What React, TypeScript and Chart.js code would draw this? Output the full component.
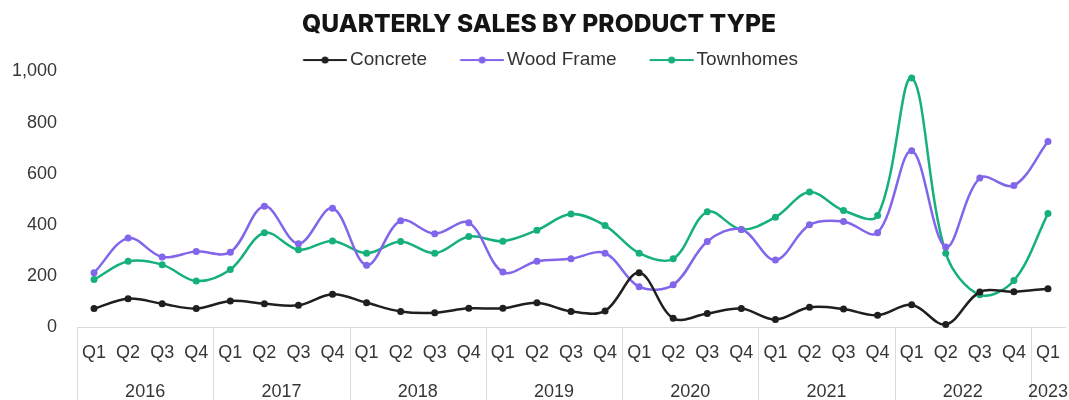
import React, { useEffect, useRef } from "react";
import { Chart, registerables } from "chart.js";

Chart.register(...registerables);

const quarters = [
  "Q1", "Q2", "Q3", "Q4",
  "Q1", "Q2", "Q3", "Q4",
  "Q1", "Q2", "Q3", "Q4",
  "Q1", "Q2", "Q3", "Q4",
  "Q1", "Q2", "Q3", "Q4",
  "Q1", "Q2", "Q3", "Q4",
  "Q1", "Q2", "Q3", "Q4",
  "Q1",
];
const years = ["2016", "2017", "2018", "2019", "2020", "2021", "2022", "2023"];
const quartersPerYear = [4, 4, 4, 4, 4, 4, 4, 1];

const concrete = [72, 111, 91, 72, 102, 91, 85, 128, 95, 61, 56, 73, 73, 95, 61, 63, 212, 34, 53, 72, 29, 77, 70, 46, 87, 10, 137, 138, 150];
const woodFrame = [212, 348, 274, 296, 293, 473, 326, 465, 242, 416, 365, 408, 215, 257, 267, 289, 158, 165, 335, 382, 262, 400, 413, 369, 690, 313, 583, 554, 726];
const townhomes = [186, 257, 244, 180, 225, 369, 302, 337, 289, 335, 289, 354, 336, 379, 442, 397, 289, 267, 451, 382, 430, 528, 456, 436, 975, 289, 126, 182, 444];

const seriesNames = ["Concrete", "Wood Frame", "Townhomes"];
const seriesColors = ["#1f1f1f", "#8165ea", "#16b07c"];

const yTicks = [0, 200, 400, 600, 800, 1000];

const FONT = "'Liberation Sans', Arial, sans-serif";
const TEXT = "#363636";
const AXIS = "#d9d9d9";

function makeMarker(color: string): HTMLCanvasElement {
  const c = document.createElement("canvas");
  c.width = 74;
  c.height = 12;
  const ctx = c.getContext("2d")!;
  ctx.strokeStyle = color;
  ctx.lineWidth = 2;
  ctx.beginPath();
  ctx.moveTo(29.75, 6);
  ctx.lineTo(73.75, 6);
  ctx.stroke();
  ctx.fillStyle = color;
  ctx.beginPath();
  ctx.arc(51.75, 6, 3.5, 0, Math.PI * 2);
  ctx.fill();
  return c;
}

const yearPlugin = {
  id: "yearRow",
  afterDraw(chart: any) {
    const { ctx, chartArea } = chart;
    const x = chart.scales.x;
    ctx.save();
    ctx.strokeStyle = AXIS;
    ctx.lineWidth = 1;
    let start = 0;
    quartersPerYear.forEach((n, i) => {
      const sep = Math.round(x.getPixelForValue(start - 0.5)) + 0.5;
      ctx.beginPath();
      ctx.moveTo(sep, chartArea.bottom);
      ctx.lineTo(sep, chart.height);
      ctx.stroke();
      const cx = (x.getPixelForValue(start) + x.getPixelForValue(start + n - 1)) / 2;
      ctx.fillStyle = TEXT;
      ctx.font = `18px ${FONT}`;
      ctx.textAlign = "center";
      ctx.textBaseline = "middle";
      ctx.fillText(years[i], cx, 392);
      start += n;
    });
    ctx.restore();
  },
};

export default function App() {
  const ref = useRef<HTMLCanvasElement>(null);

  useEffect(() => {
    document.body.style.margin = "0";
    const data = [concrete, woodFrame, townhomes];
    const chart = new Chart(ref.current!, {
      type: "line",
      data: {
        labels: quarters,
        datasets: data.map((d, i) => ({
          label: seriesNames[i],
          data: d,
          borderColor: seriesColors[i],
          backgroundColor: seriesColors[i],
          borderWidth: 2.5,
          pointRadius: 3.5,
          pointBorderWidth: 0,
          pointBackgroundColor: seriesColors[i],
          tension: 0.35,
          clip: false as any,
        })),
      },
      options: {
        responsive: false,
        animation: false,
        layout: { padding: { left: 12, right: 3, top: 0, bottom: 21 } },
        plugins: {
          tooltip: { enabled: false },
          title: {
            display: true,
            text: "QUARTERLY SALES BY PRODUCT TYPE",
            color: "#141414",
            font: { family: "Inter", size: 24.6, weight: "800" as any },
            padding: { top: 9.5, bottom: 1.5 },
          },
          legend: {
            display: true,
            maxHeight: 31,
            labels: {
              usePointStyle: true,
              pointStyleWidth: 60.5,
              padding: 10,
              color: "#333",
              font: { family: FONT, size: 19 },
              generateLabels: (c: any) =>
                c.data.datasets.map((ds: any, i: number) => ({
                  text: ds.label,
                  pointStyle: makeMarker(seriesColors[i]),
                  fillStyle: seriesColors[i],
                  strokeStyle: seriesColors[i],
                  lineWidth: 0,
                  hidden: false,
                  datasetIndex: i,
                  fontColor: "#333",
                })),
            },
          } as any,
        },
        scales: {
          x: {
            type: "category",
            offset: true,
            afterFit: (s: any) => {
              s.paddingLeft = 0;
              s.paddingRight = 0;
            },
            grid: { display: false, drawTicks: false, offset: true },
            border: { display: true, color: AXIS, width: 1 },
            ticks: {
              color: TEXT,
              font: { family: FONT, size: 18 },
              padding: 15.2,
              maxRotation: 0,
              autoSkip: false,
            },
          },
          y: {
            min: 0,
            max: 1000,
            afterFit: (s: any) => {
              s.width = 65;
            },
            afterBuildTicks: (s: any) => {
              s.ticks = yTicks.map((v) => ({ value: v }));
            },
            grid: { display: false, drawTicks: false },
            border: { display: false },
            ticks: {
              color: TEXT,
              font: { family: FONT, size: 18 },
              padding: 20,
              callback: (v: any) => Number(v).toLocaleString("en-US"),
            },
          },
        },
      },
      plugins: [yearPlugin],
    });
    return () => chart.destroy();
  }, []);

  return (
    <div style={{ width: 1069, height: 400 }}>
      <canvas ref={ref} width={1069} height={400} />
    </div>
  );
}
